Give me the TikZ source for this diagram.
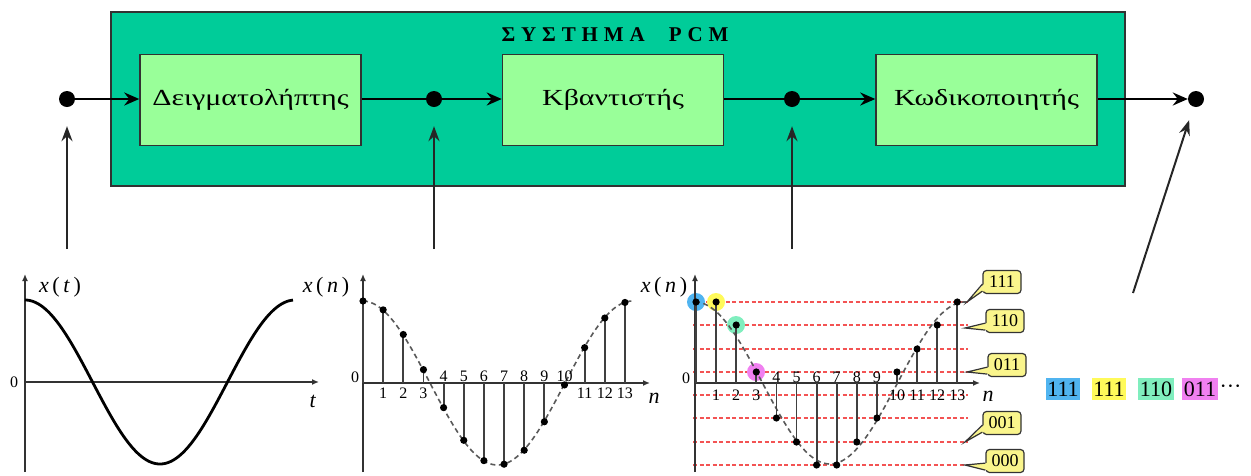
\documentclass[tikz,border=0pt]{standalone}
\usepackage{fontspec}
\setmainfont{Liberation Serif}
\newfontfamily\boxfont{Liberation Serif}[FakeStretch=1.3]
\newfontfamily\titlefont{Liberation Serif}[LetterSpace=28]
\usetikzlibrary{arrows.meta}
\definecolor{outerfill}{RGB}{0,204,153}
\definecolor{boxfill}{RGB}{153,255,153}
\definecolor{edgegray}{RGB}{50,50,50}
\definecolor{calloutyellow}{RGB}{250,245,140}
\definecolor{hlblue}{RGB}{80,180,240}
\definecolor{hlyellow}{RGB}{255,250,90}
\definecolor{hlgreen}{RGB}{128,238,190}
\definecolor{hlmagenta}{RGB}{240,128,240}
\definecolor{qred}{RGB}{240,40,40}
\begin{document}
\begin{tikzpicture}[x=1pt,y=-1pt,
  sysbox/.style={draw=edgegray, line width=1.5pt, fill=outerfill, minimum width=1014pt, minimum height=174pt, inner sep=0},
  blockbox/.style={draw=edgegray, line width=1.5pt, fill=boxfill, minimum width=221pt, minimum height=91pt, inner sep=0, font=\boxfont\fontsize{23}{26}\selectfont},
  jdot/.style={circle, fill=black, minimum size=16pt, inner sep=0},
  mainarrow/.style={line width=2.8pt, -{Stealth[length=15pt,width=13pt,inset=5pt]}},
  mainline/.style={line width=2.8pt},
  feed/.style={line width=2pt, draw=black!85, -{Stealth[length=15pt,width=11pt,inset=5pt]}},
  axisline/.style={line width=1.8pt, draw=black!80, -{Latex[length=7pt,width=6pt]}},
  stem/.style={line width=1.8pt, draw=black!75},
  qcurve/.style={line width=1.6pt, draw=black!65, dash pattern=on 5pt off 3.5pt},
  qlevel/.style={line width=2pt, draw=qred!80, dash pattern=on 4pt off 2.5pt},
  lab/.style={font=\fontsize{22}{26}\selectfont, inner sep=0},
  numlab/.style={font=\fontsize{16}{18}\selectfont, inner sep=0},
  callbox/.style={draw=black!80, fill=calloutyellow, rounded corners=3.5pt, line width=1.2pt, minimum width=38pt, minimum height=23pt, inner sep=1pt, font=\fontsize{18}{20}\selectfont},
  callptr/.style={fill=calloutyellow},
  callptredge/.style={draw=black!80, line width=1.2pt, line join=miter},
  bit/.style={inner xsep=1.5pt, inner ysep=0pt, minimum height=22pt, font=\fontsize{22}{24}\selectfont}
]
\useasboundingbox (0,0) rectangle (1251,475);

% ---------- system block ----------
\node[sysbox] (sys) at (618,99) {};
\node[font=\titlefont\bfseries\fontsize{21}{24}\selectfont, inner sep=0] (title) at (615,35) {ΣΥΣΤΗΜΑ\hspace{24pt}PCM};
\node[blockbox] (b1) at (250.5,100) {Δειγματολήπτης};
\node[blockbox] (b2) at (613,100) {Κβαντιστής};
\node[blockbox] (b3) at (986.5,100) {Κωδικοποιητής};

\node[jdot] (d0) at (67,99) {};
\node[jdot] (d1) at (434,99) {};
\node[jdot] (d2) at (792,99) {};
\node[jdot] (d3) at (1196,99) {};

\draw[mainarrow] (d0) -- (b1.west |- d0);
\draw[mainline] (b1.east |- d1) -- (d1);
\draw[mainarrow] (d1) -- (b2.west |- d1);
\draw[mainline] (b2.east |- d2) -- (d2);
\draw[mainarrow] (d2) -- (b3.west |- d2);
\draw[mainarrow] (b3.east |- d3) -- (d3);

\coordinate (s0) at (67,249);
\coordinate (s1) at (434,249);
\coordinate (s2) at (792,249);
\coordinate (s3) at (1133,293);
\draw[feed, shorten >=19pt] (s0) -- (d0);
\draw[feed, shorten >=19pt] (s1) -- (d1);
\draw[feed, shorten >=19pt] (s2) -- (d2);
\draw[feed, shorten >=14pt] (s3) -- (d3);

% ---------- plot 1: x(t) ----------
\draw[axisline] (25,472) -- (25,274);
\draw[axisline] (25,382) -- (319,382);
\draw[line width=2.8pt, line join=round] plot[domain=25:293,samples=200] (\x,{382-82*cos(1.33333*(\x-25))});
\node[lab] (xt) at (60,287) {\textit{x}\,(\,\textit{t}\,)};
\node[numlab] (z1) at (14,382) {0};
\node[lab] (tl) at (313,401) {\textit{t}};

% ---------- plot 2: samples ----------
\draw[axisline] (363,472) -- (363,274);
\draw[axisline] (363,383) -- (650,383);
\draw[qcurve] plot[domain=363:633,samples=200] (\x,{383-82*cos(1.33333*(\x-362.5))});
\foreach \n in {0,...,13} {
  \pgfmathsetmacro\xx{363+20.15*\n}
  \pgfmathsetmacro\yy{383-82*cos(26.8667*\n)}
  \draw[stem] (\xx,383) -- (\xx,\yy);
  \fill (\xx,\yy) circle[radius=3.6pt];
}
\foreach \n in {1,2,3,11,12,13} {
  \pgfmathsetmacro\xx{363+20.15*\n}
  \node[numlab] at (\xx,393) {\n};
}
\foreach \n in {4,...,10} {
  \pgfmathsetmacro\xx{363+20.15*\n}
  \node[numlab] at (\xx,376) {\n};
}
\node[lab] (xn1) at (326,287) {\textit{x}\,(\,\textit{n}\,)};
\node[numlab] (z2) at (355,377) {0};
\node[lab] (nl1) at (654,398) {\textit{n}};

% ---------- plot 3: quantized ----------
\foreach \yl in {302,325,349,372,395,418,442,465} {
  \draw[qlevel] (693,\yl) -- (968,\yl);
}
\fill[hlblue]    (696,302) circle[radius=9pt];
\fill[hlyellow]  (716,302) circle[radius=9pt];
\fill[hlgreen]   (736,325) circle[radius=9pt];
\fill[hlmagenta] (756,372) circle[radius=9pt];
\draw[axisline] (695,472) -- (695,274);
\draw[axisline] (695,383) -- (980,383);
\draw[qcurve] plot[domain=695:968,samples=200] (\x,{383-81*cos(1.33333*(\x-695))});
\foreach \n/\yy in {0/302,1/302,2/325,3/372,4/418,5/442,6/465,7/465,8/442,9/418,10/372,11/349,12/325,13/302} {
  \pgfmathsetmacro\xx{696+20.1*\n}
  \draw[stem] (\xx,383) -- (\xx,\yy);
  \fill (\xx,\yy) circle[radius=3.6pt];
}
\foreach \n in {1,2,3,10,11,12,13} {
  \pgfmathsetmacro\xx{696+20.1*\n}
  \node[numlab] at (\xx,395) {\n};
}
\foreach \n in {4,...,9} {
  \pgfmathsetmacro\xx{696+20.1*\n}
  \node[numlab] at (\xx,377) {\n};
}
\node[lab] (xn2) at (664,287) {\textit{x}\,(\,\textit{n}\,)};
\node[numlab] (z3) at (686,378) {0};
\node[lab] (nl2) at (988,396) {\textit{n}};

% ---------- callouts ----------
\coordinate (p111) at (967,302);
\coordinate (p110) at (965,328);
\coordinate (p011) at (967,372);
\coordinate (p001) at (965,442);
\coordinate (p000) at (965,465);
\foreach \nm/\cx/\cy in {111/1002/282, 110/1005/321, 011/1007/365, 001/1002/423, 000/1005/461} {
  \node[callbox] (c\nm) at (\cx,\cy) {\nm};
  \fill[callptr] ([xshift=1.5pt,yshift=3pt]c\nm.south west) -- (p\nm) -- ([xshift=1.5pt,yshift=10pt]c\nm.south west) -- cycle;
  \draw[callptredge] ([yshift=3pt]c\nm.south west) -- (p\nm) -- ([yshift=10pt]c\nm.south west);
}

% ---------- bit stream ----------
\node[bit, fill=hlblue] (bs1) at (1063,389) {111};
\node[bit, fill=hlyellow] (bs2) at (1109,389) {111};
\node[bit, fill=hlgreen] (bs3) at (1156,389) {110};
\node[bit, fill=hlmagenta] (bs4) at (1200,389) {011};
\node[bit, anchor=west] (bs5) at (bs4.east) {···};
\end{tikzpicture}
\end{document}
